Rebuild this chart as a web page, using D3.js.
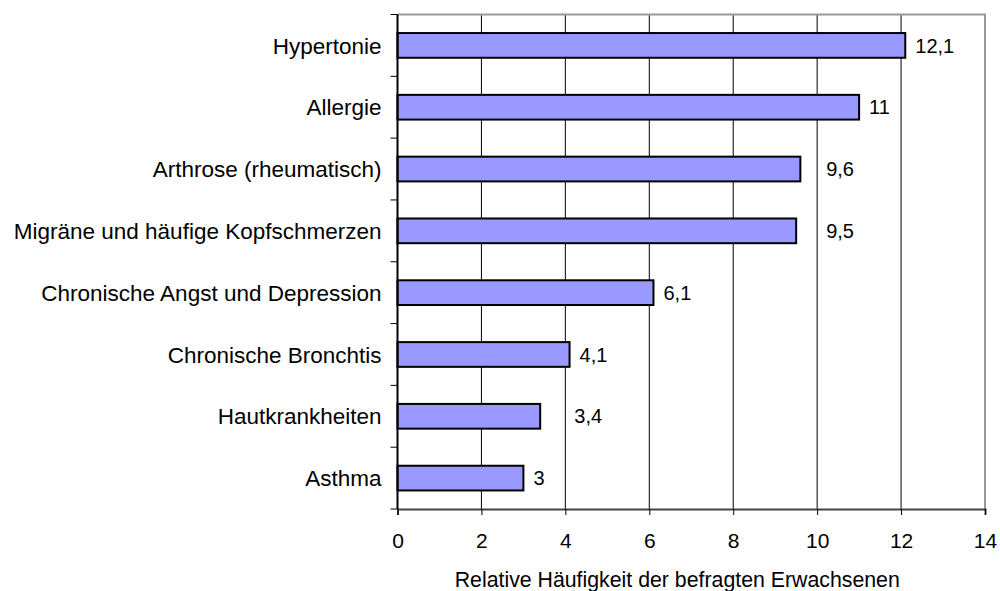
<!DOCTYPE html>
<meta charset="utf-8">
<style>
    body { margin: 0; background: #fff; }
    text { font-family: Arial, "Liberation Sans", sans-serif; fill: #000; }
</style>
<svg width="1000" height="591"></svg>
<script src="https://cdn.jsdelivr.net/npm/d3@7"></script>
<script>

    var categories = ["Hypertonie", "Allergie", "Arthrose (rheumatisch)", "Migräne und häufige Kopfschmerzen",
        "Chronische Angst und Depression", "Chronische Bronchtis", "Hautkrankheiten", "Asthma"];
    var values = [12.1, 11, 9.6, 9.5, 6.1, 4.1, 3.4, 3];
    var labels = ["12,1", "11", "9,6", "9,5", "6,1", "4,1", "3,4", "3"];
    var xTicks = [0, 2, 4, 6, 8, 10, 12, 14];

    var svg = d3.select("svg"),
        margin = {top: 14.5, right: 15, bottom: 82, left: 397.5},
        width = 1000 - margin.left - margin.right,
        height = 591 - margin.top - margin.bottom,
        g = svg.append("g").attr("transform", "translate(" + margin.left + "," + margin.top + ")");

    var x = d3.scaleLinear().domain([0, 14]).range([0, width]);
    var y = d3.scaleBand().domain(categories).range([0, height]).paddingInner(0.6).paddingOuter(0.3);

    // gridlines
    g.selectAll(".grid")
        .data(xTicks.slice(1, -1))
        .enter().append("line")
        .attr("x1", function(d) { return x(d); })
        .attr("x2", function(d) { return x(d); })
        .attr("y1", 0)
        .attr("y2", height)
        .attr("stroke", "#000")
        .attr("stroke-width", 1);

    // plot border (top & right)
    g.append("path")
        .attr("d", "M0,0H" + width + "V" + height)
        .attr("fill", "none")
        .attr("stroke", "#999")
        .attr("stroke-width", 2);

    // bars
    g.selectAll(".bar")
        .data(values)
        .enter().append("rect")
        .attr("x", 0)
        .attr("y", function(d, i) { return y(categories[i]); })
        .attr("width", function(d) { return x(d); })
        .attr("height", y.bandwidth())
        .attr("fill", "#9999ff")
        .attr("stroke", "#000")
        .attr("stroke-width", 2);

    // value labels, pushed past a gridline when they would sit on it
    g.selectAll(".val")
        .data(values)
        .enter().append("text")
        .attr("y", function(d, i) { return y(categories[i]) + y.bandwidth() / 2; })
        .attr("dy", "0.36em")
        .style("font-size", "20px")
        .text(function(d, i) { return labels[i]; })
        .attr("x", function(d) {
            var x0 = x(d) + 10,
                w = this.getComputedTextLength();
            xTicks.slice(1, -1).forEach(function(t) {
                if (x(t) > x0 - 2 && x(t) < x0 + w + 2) x0 = x(t) + 9;
            });
            return x0;
        });

    // x axis
    var xAxis = g.append("g")
        .attr("transform", "translate(0," + height + ")")
        .call(d3.axisBottom(x).tickValues(xTicks).tickSize(6).tickPadding(18).tickFormat(d3.format("d")));
    xAxis.select(".domain").attr("stroke", "#444").attr("stroke-width", 2);
    xAxis.selectAll(".tick line").attr("stroke", "#000");
    xAxis.selectAll("text").style("font-size", "21px").attr("font-family", null);

    // y axis: ticks between categories
    var yEdges = d3.range(categories.length + 1).map(function(i) { return i * height / categories.length; });
    g.append("line")
        .attr("x1", 0).attr("x2", 0).attr("y1", 0).attr("y2", height)
        .attr("stroke", "#000").attr("stroke-width", 2);
    g.selectAll(".ytick")
        .data(yEdges)
        .enter().append("line")
        .attr("x1", -7).attr("x2", 0)
        .attr("y1", function(d) { return d; })
        .attr("y2", function(d) { return d; })
        .attr("stroke", "#000");

    g.selectAll(".cat")
        .data(categories)
        .enter().append("text")
        .attr("x", -16)
        .attr("y", function(d) { return y(d) + y.bandwidth() / 2; })
        .attr("dy", "0.36em")
        .attr("text-anchor", "end")
        .style("font-size", "22.5px")
        .text(function(d) { return d; });

    // x axis title
    g.append("text")
        .attr("x", width / 2 - 14)
        .attr("y", height + 78)
        .attr("text-anchor", "middle")
        .style("font-size", "21.3px")
        .text("Relative Häufigkeit der befragten Erwachsenen");

</script>
